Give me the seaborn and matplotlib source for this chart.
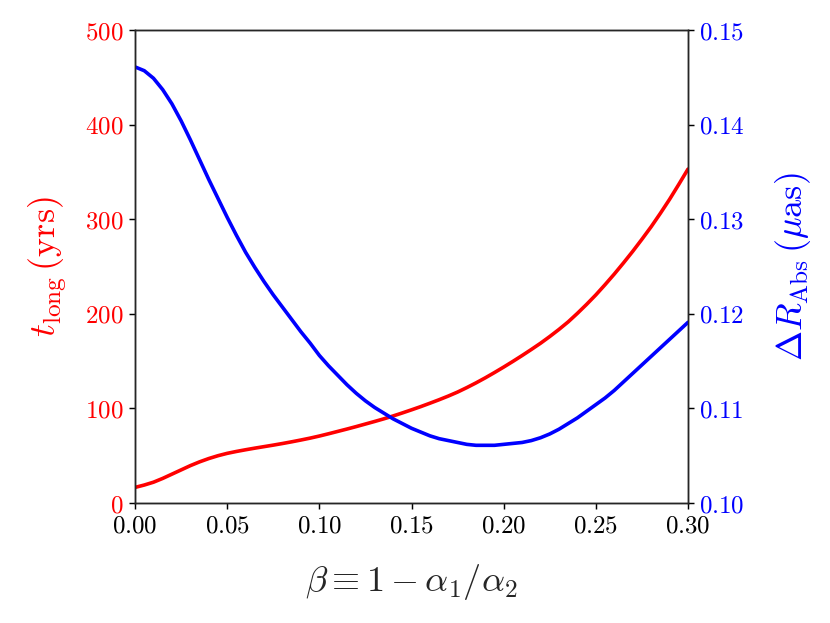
import pandas as pd
import seaborn as sns
import matplotlib.pyplot as plt
from matplotlib.ticker import FuncFormatter

# Values (step 0.005 in beta)
beta = [0.000, 0.005, 0.010, 0.015, 0.020, 0.025, 0.030, 0.035, 0.040, 0.045,
        0.050, 0.055, 0.060, 0.065, 0.070, 0.075, 0.080, 0.085, 0.090, 0.095,
        0.100, 0.105, 0.110, 0.115, 0.120, 0.125, 0.130, 0.135, 0.140, 0.145,
        0.150, 0.155, 0.160, 0.165, 0.170, 0.175, 0.180, 0.185, 0.190, 0.195,
        0.200, 0.205, 0.210, 0.215, 0.220, 0.225, 0.230, 0.235, 0.240, 0.245,
        0.250, 0.255, 0.260, 0.265, 0.270, 0.275, 0.280, 0.285, 0.290, 0.295,
        0.300]
t_long = [16.5, 19, 22, 26, 30.5, 35, 39.5, 43.5, 47, 50,
          52.5, 54.5, 56.3, 58, 59.6, 61.2, 62.9, 64.7, 66.6, 68.6,
          70.8, 73.2, 75.7, 78.2, 80.8, 83.5, 86.2, 89, 92, 95.2,
          98.5, 101.9, 105.5, 109.2, 113.1, 117.3, 122.0, 127.0, 132.3, 137.9,
          143.7, 149.7, 155.9, 162.3, 168.9, 176, 183.5, 191.5, 200.5, 210,
          220, 230.8, 242, 253.8, 266, 278.8, 292, 306.2, 321, 336.8,
          353]
delta_r = [0.1461, 0.1457, 0.1449, 0.1437, 0.1422, 0.1404, 0.1384, 0.1363, 0.1342, 0.1322,
           0.1302, 0.1283, 0.1265, 0.1249, 0.1234, 0.1220, 0.1207, 0.1194, 0.1181, 0.1169,
           0.1156, 0.1145, 0.1135, 0.1125, 0.1116, 0.1108, 0.1101, 0.1095, 0.1089, 0.1084,
           0.1079, 0.1075, 0.1071, 0.1068, 0.1066, 0.1064, 0.1062, 0.1061, 0.1061, 0.1061,
           0.1062, 0.1063, 0.1064, 0.1066, 0.1069, 0.1073, 0.1078, 0.1084, 0.1090, 0.1097,
           0.1104, 0.1111, 0.1119, 0.1128, 0.1137, 0.1146, 0.1155, 0.1164, 0.1173, 0.1182,
           0.1191]

df = pd.DataFrame({'beta': beta, 't_long': t_long, 'delta_r': delta_r})

sns.set_theme(style='ticks')
plt.rcParams['font.family'] = ['DejaVu Serif']
plt.rcParams['mathtext.fontset'] = 'cm'
plt.rcParams['axes.linewidth'] = 1.05
plt.rcParams['xtick.major.width'] = 1.05
plt.rcParams['ytick.major.width'] = 1.05
plt.rcParams['xtick.major.size'] = 4.5
plt.rcParams['ytick.major.size'] = 4.5

fig, ax1 = plt.subplots(figsize=(8.3, 6.23), dpi=100)
fig.subplots_adjust(left=0.1627, right=0.8289, top=0.9518, bottom=0.1926)
ax2 = ax1.twinx()

sns.lineplot(data=df, x='beta', y='t_long', ax=ax1, color='red', linewidth=2.6)
sns.lineplot(data=df, x='beta', y='delta_r', ax=ax2, color='blue', linewidth=2.6)

ax1.set_xlim(0, 0.30)
ax1.set_ylim(0, 500)
ax2.set_ylim(0.10, 0.15)
ax1.set_xticks([0.00, 0.05, 0.10, 0.15, 0.20, 0.25, 0.30])
ax1.set_yticks([0, 100, 200, 300, 400, 500])
ax2.set_yticks([0.10, 0.11, 0.12, 0.13, 0.14, 0.15])

ax1.xaxis.set_major_formatter(FuncFormatter(lambda v, p: f'${v:.2f}$'))
ax1.yaxis.set_major_formatter(FuncFormatter(lambda v, p: f'${v:.0f}$'))
ax2.yaxis.set_major_formatter(FuncFormatter(lambda v, p: f'${v:.2f}$'))

ax1.tick_params(axis='x', labelsize=18, colors='black')
ax1.tick_params(axis='y', labelsize=18, labelcolor='red', color='black')
ax2.tick_params(axis='y', labelsize=18, labelcolor='blue', color='black')

ax1.set_xlabel(r'$\beta \equiv 1 - \alpha_1/\alpha_2$', fontsize=26, labelpad=18)
ax1.set_ylabel(r'$t_{\rm long}\,({\rm yrs})$', fontsize=26, color='red', labelpad=12)
ax2.set_ylabel(r'$\Delta R_{\rm Abs}\,(\mu{\rm as})$', fontsize=26, color='blue', labelpad=20)

plt.savefig('out.png', dpi=100)
plt.close()
